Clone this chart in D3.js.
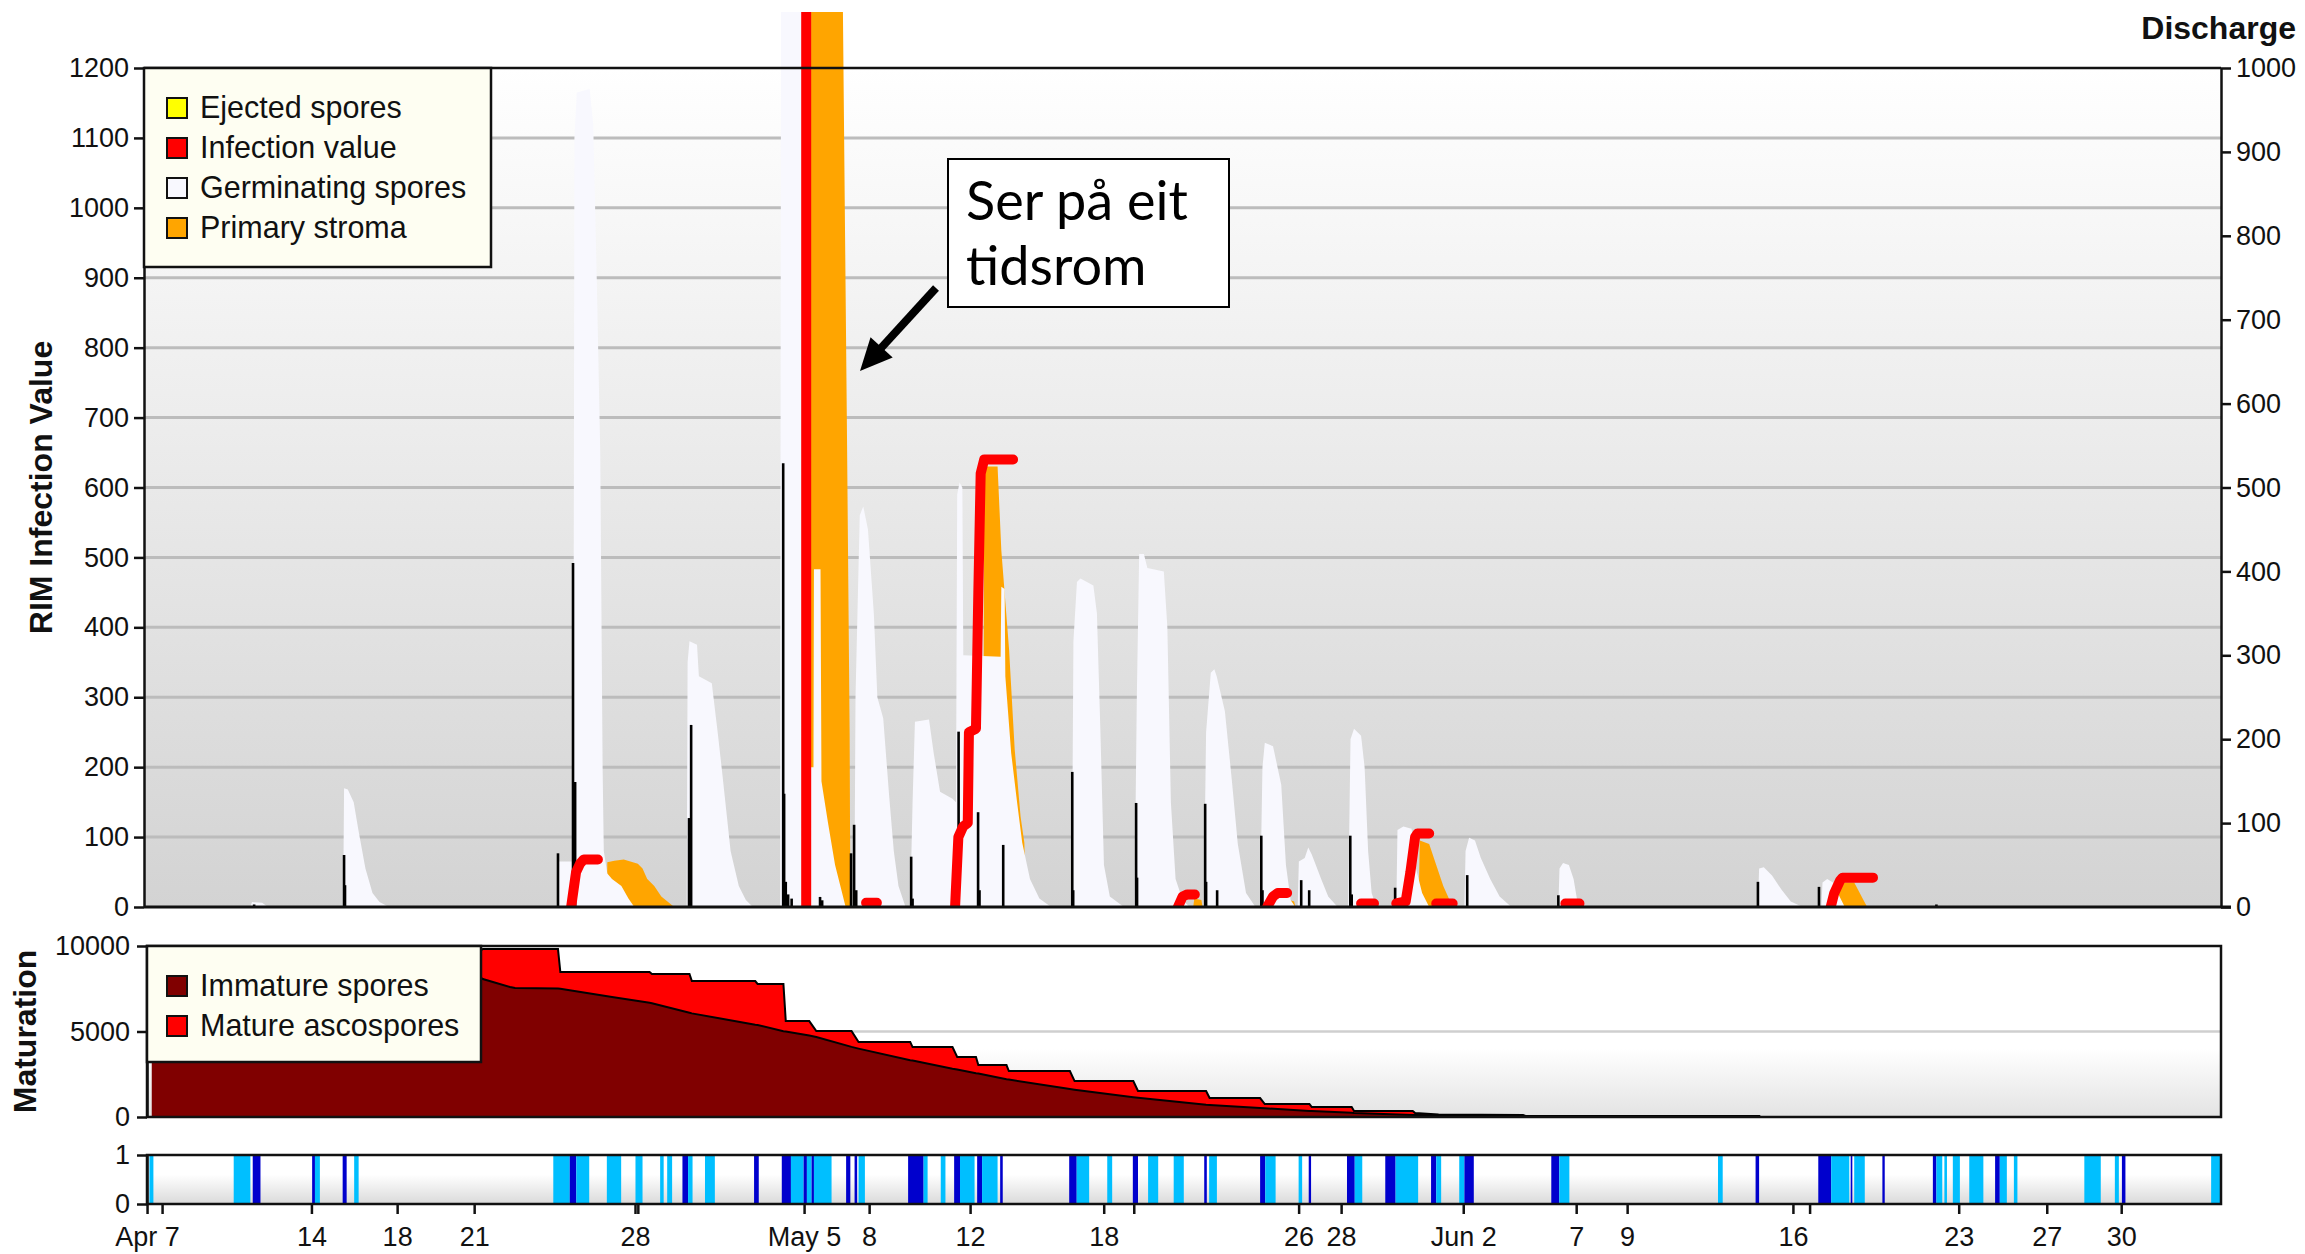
<!DOCTYPE html>
<html><head><meta charset="utf-8">
<script src="https://cdn.jsdelivr.net/npm/d3@7"></script>
<style>body{margin:0;background:#fff;overflow:hidden}</style>
</head><body>
<svg id="c" width="2305" height="1254"></svg>
<script>
// ---------- DATA (time = days since Apr 7) ----------
const START = Date.UTC(2010, 3, 7);
const toDate = d => new Date(START + d * 864e5);

// Germinating spores (left axis)
const germDays = [4.4,4.47,4.9,5.15,
 8.35,8.39,8.55,8.8,9.0,9.3,9.6,9.9,10.3,
 17.45,17.5,18.15,18.2,18.3,18.85,19.0,19.15,19.3,19.4,19.45,19.6,19.8,20.2,20.5,20.75,
 22.98,23.02,23.1,23.42,23.5,24.05,24.3,24.5,24.85,25.2,25.5,25.8,
 26.96,27.0,28.15,28.2,28.38,28.4,28.68,28.72,29.0,29.3,29.6,29.75,
 30.12,30.17,30.35,30.5,30.7,30.95,31.1,31.35,31.6,31.8,32.0,32.3,
 32.5,32.6,32.7,33.3,33.5,33.77,34.3,34.45,34.5,34.6,34.72,34.76,36.35,36.38,36.52,36.55,36.8,37.05,37.27,37.6,38.0,38.5,
 39.38,39.45,39.6,39.75,40.3,40.45,40.6,40.75,41.0,41.6,
 42.05,42.15,42.25,42.45,42.6,43.3,43.45,43.6,43.8,44.1,44.4,
 45.0,45.1,45.3,45.45,45.55,45.9,46.2,46.45,46.8,47.2,
 47.4,47.5,47.6,47.95,48.3,48.5,48.7,48.9,
 49.0,49.05,49.3,49.45,49.6,50.0,50.3,50.7,
 51.15,51.25,51.4,51.7,51.85,52.0,52.15,52.35,
 53.2,53.25,53.5,53.85,54.0,54.3,54.6,
 56.1,56.15,56.3,56.55,56.8,57.2,57.6,58.1,
 60.1,60.15,60.3,60.55,60.75,60.9,61.05,
 68.6,68.65,68.85,69.2,69.6,70.0,70.5,
 71.3,71.35,71.55,71.8,72.0,72.3];
const germValues = [0,7,6,0,
 0,170,168,150,110,55,20,7,0,
 0,65,65,1100,1165,1170,1120,900,650,200,80,48,40,30,12,0,
 0,350,380,375,330,320,250,190,80,30,10,0,
 0,1400,1400,200,200,483,483,180,120,60,20,0,
 0,300,560,573,540,420,300,270,160,80,30,0,
 0,150,265,268,220,165,155,150,590,607,600,360,358,458,455,330,220,150,92,40,12,0,
 0,380,465,470,460,420,250,60,15,0,
 0,300,505,505,485,480,400,150,40,10,0,
 0,250,335,340,330,280,180,90,20,0,
 0,200,235,230,175,60,10,0,
 0,65,70,85,75,40,15,0,
 0,240,255,245,200,80,20,0,
 0,110,115,112,60,20,0,
 0,80,99,95,70,40,15,0,
 0,55,63,60,40,10,0,
 0,55,57,45,25,8,0,
 0,35,40,35,20,0];

// Primary stroma (left axis)
const stromaDays = [19.58,19.6,19.9,20.3,20.9,21.1,21.3,21.6,21.9,22.45,
 28.25,28.28,29.6,29.8,29.92,29.95,
 35.6,35.65,36.22,36.38,36.71,36.95,37.2,37.36,37.42,
 44.55,44.6,44.9,44.95,
 48.6,48.65,48.85,48.9,
 54.15,54.2,54.6,54.9,55.2,55.6,
 71.95,72.05,72.7,73.25];
const stromaValues = [0,64,66,68,62,55,40,30,15,0,
 0,1400,1400,700,250,0,
 0,630,630,510,368,225,129,92,0,
 0,12,10,0,
 0,10,8,0,
 0,95,90,60,30,0,
 0,35,35,0];

// Infection value (left axis); null separates events
const infectionDays = [18.06,18.27,18.44,18.6,19.2, NaN,
 28.07,28.07, NaN,
 30.62,31.08, NaN,
 34.41,34.55,34.75,34.95,35.0,35.3,35.4,35.5,35.65,36.88, NaN,
 43.9,44.1,44.3,44.62, NaN,
 47.7,47.95,48.15,48.55, NaN,
 51.7,52.25, NaN,
 53.2,53.6,53.8,54.0,54.1,54.6, NaN,
 54.9,55.6, NaN,
 60.4,61.0, NaN,
 71.7,71.85,72.1,72.2,73.5];
const infectionValues = [0,50,62,68,68, null,
 0,1400, null,
 6,6, null,
 0,100,115,120,250,255,450,620,640,640, null,
 0,15,18,18, null,
 0,15,20,20, null,
 5,5, null,
 5,8,50,100,105,105, null,
 5,5, null,
 5,5, null,
 0,20,38,42,42];

// Discharge (right axis)
const dischargeDays = [4.56,8.39,8.43,17.5,18.14,18.23,23.08,23.17,27.09,27.13,27.2,27.3,27.45,28.07,28.66,28.75,
 29.98,30.11,30.2,32.54,32.6,34.41,34.56,35.39,35.45,36.46,39.4,39.44,42.12,42.16,45.06,45.1,45.57,
 47.45,47.5,49.15,49.49,51.24,51.3,53.15,56.22,60.1,68.6,71.2,76.2];
const dischargeValues = [3,62,26,64,410,149,106,217,529,135,30,15,10,118,12,8,
 64,98,20,60,10,74,209,113,20,74,161,20,124,35,123,30,20,
 85,20,32,20,85,15,23,38,14,30,24,3];

// Maturation
const matDays = [0.2,14.27,14.3,15.46,15.67,17.5,17.6,19.8,21.4,21.5,23.1,23.2,25.9,26.0,27.1,27.2,28.2,28.5,30.0,30.3,
 32.5,32.6,34.3,34.5,35.3,35.4,36.6,36.7,39.3,39.5,42.0,42.2,45.1,45.25,47.4,47.6,49.5,49.6,51.3,51.4,53.9,54.0,55.0,
 58.6,58.7,68.65,68.7,88.3];
const immatureSpores = [8100,8100,8070,7600,7540,7510,7500,7020,6680,6650,6100,6060,5400,5380,5020,5000,4760,4680,4100,4000,
 3320,3300,2820,2780,2560,2540,2210,2190,1640,1600,1150,1120,710,700,525,510,355,350,250,240,120,118,100,
 60,60,60,0,0];
const matureAscospores = [1700,1700,1750,2220,2280,2310,980,1460,1800,1710,2260,1890,2550,2400,2760,610,850,350,930,390,
 1070,790,1270,730,950,500,830,500,1050,500,950,400,810,410,585,250,405,230,330,110,230,112,50,
 60,0,0,0,0];

// Rain / wetness strip
const rainStart = [0.1,3.69,4.5,7.03,7.15,8.33,8.82,17.3,18.0,18.28,19.58,20.8,21.85,22.15,22.8,23.04,23.76,25.85,
 27.03,27.42,27.96,28.1,28.3,28.4,29.77,30.13,30.3,32.41,33.07,33.8,34.37,34.62,35.35,35.56,36.33,
 39.27,39.59,40.89,41.98,42.63,43.72,45.02,45.23,47.4,47.62,49.04,49.47,51.1,51.43,52.73,53.17,54.68,54.9,55.88,56.1,
 59.8,60.14,66.9,68.5,71.17,71.72,72.55,72.7,73.9,76.05,76.2,76.54,76.9,77.6,78.7,78.9,79.5,82.5,83.8,84.1,87.9];
const rainEnd = [0.27,4.4,4.83,7.15,7.36,8.5,9.01,18.0,18.28,18.83,20.19,21.1,22.0,22.36,23.04,23.23,24.18,26.05,
 27.42,27.96,28.1,28.3,28.4,29.15,29.95,30.24,30.57,33.07,33.24,34.0,34.62,35.24,35.56,36.22,36.44,
 39.59,40.12,41.1,42.2,43.06,44.15,45.13,45.56,47.62,48.06,49.19,49.57,51.43,51.75,53.17,54.13,54.9,55.11,56.1,56.5,
 60.14,60.57,67.1,68.65,71.72,72.49,72.62,73.15,74.0,76.2,76.45,76.65,77.2,78.2,78.9,79.2,79.65,83.2,83.97,84.25,88.3];
const rainKind = ['L','L','D','D','L','D','L','L','D','L','L','L','L','L','D','L','L','D',
 'D','L','D','L','D','L','D','D','L','D','L','L','D','L','D','L','D',
 'D','L','L','D','L','L','D','L','D','L','L','D','D','L','D','L','D','L','L','D',
 'D','L','L','D','D','L','D','L','D','D','L','L','L','L','D','L','L','L','L','D','L'];

// Axis ticks
const tickDays = [0,7,10.65,13.93,20.78,27.98,30.75,35.05,40.74,49.04,50.85,56.05,60.86,63.03,70.09,77.15,80.9,84.07];
const tickLabels = ['Apr 7','14','18','21','28','May 5','8','12','18','26','28','Jun 2','7','9','16','23','27','30'];
const minorTickDays = [0.64,20.9,42.02,70.8];
const leftTicks = d3.range(0, 1201, 100);
const rightTicks = d3.range(0, 1001, 100);
const matTicks = [0, 5000, 10000];
const rainTicks = [0, 1];

const legendMain = ['Ejected spores','Infection value','Germinating spores','Primary stroma'];
const legendMat = ['Immature spores','Mature ascospores'];

// ---------- STYLE ----------
const FONT = "'Liberation Sans', Arial, Helvetica, sans-serif";
const C = {germ:'#f8f8fe', stroma:'#ffa500', inf:'#ff0000', ejected:'#ffff00', dis:'#000000',
  immature:'#800000', mature:'#ff0000', light:'#00bfff', dark:'#0000cd'};
const legendMainColors = [C.ejected, C.inf, C.germ, C.stroma];
const legendMatColors = [C.immature, C.mature];

const M  = {x0:144, x1:2221, y0:68,  y1:907};
const MT = {x0:147, x1:2221, y0:946, y1:1117};
const RN = {x0:147, x1:2221, y0:1155, y1:1204};

const svg = d3.select('#c');
const defs = svg.append('defs');
function vgrad(id, stops){
  const g = defs.append('linearGradient').attr('id', id).attr('x1',0).attr('y1',0).attr('x2',0).attr('y2',1);
  stops.forEach(s => g.append('stop').attr('offset', s[0]).attr('stop-color', s[1]));
}
vgrad('gMain', [[0,'#ffffff'],[1,'#d3d3d3']]);
vgrad('gMat',  [[0,'#ffffff'],[0.6,'#ffffff'],[1,'#e3e3e3']]);
vgrad('gRain', [[0,'#ffffff'],[0.4,'#ffffff'],[1,'#dadada']]);
defs.append('clipPath').attr('id','clipMain').append('rect')
  .attr('x', M.x0).attr('y', 12).attr('width', M.x1 - M.x0).attr('height', M.y1 - 12);
defs.append('clipPath').attr('id','clipMat').append('rect')
  .attr('x', MT.x0).attr('y', MT.y0).attr('width', MT.x1 - MT.x0).attr('height', MT.y1 - MT.y0);

// ---------- SCALES ----------
const x = d3.scaleUtc().domain([toDate(-0.13), toDate(88.32)]).range([M.x0, M.x1]);
const yL = d3.scaleLinear().domain([0,1200]).range([M.y1, M.y0]);
const yR = d3.scaleLinear().domain([0,1000]).range([M.y1, M.y0]);
const yM = d3.scaleLinear().domain([0,10000]).range([MT.y1, MT.y0]);
const yRn = d3.scaleLinear().domain([0,1]).range([RN.y1, RN.y0]);
const fmt = d3.format('d');

const zip = (ds, vs) => ds.map((d, i) => ({d, v: vs[i]}));

// ---------- MAIN PANEL ----------
svg.append('rect').attr('x', M.x0).attr('y', M.y0).attr('width', M.x1 - M.x0).attr('height', M.y1 - M.y0).attr('fill', 'url(#gMain)');
svg.append('g').selectAll('line').data(leftTicks.filter(t => t > 0 && t < 1200)).join('line')
  .attr('x1', M.x0).attr('x2', M.x1).attr('y1', d => yL(d)).attr('y2', d => yL(d))
  .attr('stroke', '#bcbcbc').attr('stroke-width', 3);

const plot = svg.append('g').attr('clip-path', 'url(#clipMain)');
const areaL = d3.area().x(p => x(toDate(p.d))).y0(yL(0)).y1(p => yL(p.v));
plot.append('path').datum(zip(stromaDays, stromaValues)).attr('d', areaL).attr('fill', C.stroma);
plot.append('path').datum(zip(germDays, germValues)).attr('d', areaL).attr('fill', C.germ);
plot.append('g').selectAll('line').data(zip(dischargeDays, dischargeValues)).join('line')
  .attr('x1', p => x(toDate(p.d))).attr('x2', p => x(toDate(p.d)))
  .attr('y1', yR(0)).attr('y2', p => yR(p.v)).attr('stroke', C.dis).attr('stroke-width', 2.6);
const lineInf = d3.line().defined(p => p.v !== null).x(p => x(toDate(p.d))).y(p => yL(p.v));
plot.append('path').datum(zip(infectionDays, infectionValues)).attr('d', lineInf)
  .attr('fill', 'none').attr('stroke', C.inf).attr('stroke-width', 10)
  .attr('stroke-linejoin', 'round').attr('stroke-linecap', 'round');

// frame lines
svg.append('line').attr('x1', M.x0).attr('x2', M.x1).attr('y1', M.y0).attr('y2', M.y0).attr('stroke', '#111').attr('stroke-width', 2.5);

const axL = svg.append('g').attr('transform', `translate(${M.x0},0)`)
  .call(d3.axisLeft(yL).tickValues(leftTicks).tickFormat(fmt).tickSize(10).tickSizeOuter(0).tickPadding(5));
const axR = svg.append('g').attr('transform', `translate(${M.x1},0)`)
  .call(d3.axisRight(yR).tickValues(rightTicks).tickFormat(fmt).tickSize(10).tickSizeOuter(0).tickPadding(5));
svg.append('line').attr('x1', M.x0).attr('x2', M.x1 + 10).attr('y1', M.y1).attr('y2', M.y1).attr('stroke', '#111').attr('stroke-width', 3);

// legend (main)
const lg = svg.append('g');
lg.append('rect').attr('x', M.x0).attr('y', M.y0).attr('width', 347).attr('height', 199)
  .attr('fill', '#fefef2').attr('stroke', '#111').attr('stroke-width', 2.5);
legendMain.forEach((t, i) => {
  const cy = 108 + i * 40;
  lg.append('rect').attr('x', 167).attr('y', cy - 10).attr('width', 20).attr('height', 20)
    .attr('fill', legendMainColors[i]).attr('stroke', '#111').attr('stroke-width', 2);
  lg.append('text').attr('x', 200).attr('y', cy + 10).text(t)
    .attr('font-family', FONT).attr('font-size', 30.5).attr('fill', '#111');
});

// annotation
svg.append('rect').attr('x', 948).attr('y', 159).attr('width', 281).attr('height', 148)
  .attr('fill', '#fff').attr('stroke', '#000').attr('stroke-width', 2);
const annFont = "Lato, 'Open Sans', sans-serif";
svg.append('text').attr('x', 966).attr('y', 220).attr('font-family', annFont).attr('font-size', 54).attr('fill', '#000').text('Ser på eit');
svg.append('text').attr('x', 966).attr('y', 285).attr('font-family', annFont).attr('font-size', 54).attr('fill', '#000').text('tidsrom');
{
  const x1 = 936, y1 = 288, x2 = 860, y2 = 371;
  const dx = x2 - x1, dy = y2 - y1, L = Math.hypot(dx, dy), ux = dx / L, uy = dy / L;
  const hl = 32, hw = 15;
  const bx = x2 - ux * hl, by = y2 - uy * hl;
  svg.append('line').attr('x1', x1).attr('y1', y1).attr('x2', bx + ux * 4).attr('y2', by + uy * 4)
    .attr('stroke', '#000').attr('stroke-width', 8);
  svg.append('path').attr('d', `M${x2},${y2}L${bx - uy * hw},${by + ux * hw}L${bx + uy * hw},${by - ux * hw}Z`).attr('fill', '#000');
}

// titles
svg.append('text').attr('transform', `translate(52,${(M.y0 + M.y1) / 2}) rotate(-90)`).attr('text-anchor', 'middle')
  .attr('font-family', FONT).attr('font-weight', 'bold').attr('font-size', 32).attr('fill', '#111').text('RIM Infection Value');
svg.append('text').attr('x', 2296).attr('y', 39).attr('text-anchor', 'end')
  .attr('font-family', FONT).attr('font-weight', 'bold').attr('font-size', 32).attr('fill', '#111').text('Discharge');

// ---------- MATURATION PANEL ----------
svg.append('rect').attr('x', MT.x0).attr('y', MT.y0).attr('width', MT.x1 - MT.x0).attr('height', MT.y1 - MT.y0).attr('fill', 'url(#gMat)');
svg.append('line').attr('x1', MT.x0).attr('x2', MT.x1).attr('y1', yM(5000)).attr('y2', yM(5000)).attr('stroke', '#cfcfcf').attr('stroke-width', 2.5);
const matRows = matDays.map((d, i) => ({d, immature: immatureSpores[i], mature: matureAscospores[i]}));
const stack = d3.stack().keys(['immature', 'mature'])(matRows);
const areaM = d3.area().x(p => x(toDate(p.data.d))).y0(p => yM(p[0])).y1(p => yM(p[1]));
const mg = svg.append('g').attr('clip-path', 'url(#clipMat)');
mg.selectAll('path.a').data(stack).join('path').attr('class', 'a').attr('d', areaM)
  .attr('fill', (s, i) => i === 0 ? C.immature : C.mature);
const lineM = d3.line().x(p => x(toDate(p.data.d))).y(p => yM(p[1]));
mg.selectAll('path.l').data(stack).join('path').attr('class', 'l').attr('d', lineM)
  .attr('fill', 'none').attr('stroke', '#000').attr('stroke-width', 2);
svg.append('rect').attr('x', MT.x0).attr('y', MT.y0).attr('width', MT.x1 - MT.x0).attr('height', MT.y1 - MT.y0)
  .attr('fill', 'none').attr('stroke', '#111').attr('stroke-width', 2.5);
const axM = svg.append('g').attr('transform', `translate(${MT.x0},0)`)
  .call(d3.axisLeft(yM).tickValues(matTicks).tickFormat(fmt).tickSize(10).tickSizeOuter(0).tickPadding(7));
// legend (maturation)
const lg2 = svg.append('g');
lg2.append('rect').attr('x', MT.x0).attr('y', MT.y0).attr('width', 334).attr('height', 116)
  .attr('fill', '#fefef2').attr('stroke', '#111').attr('stroke-width', 2.5);
legendMat.forEach((t, i) => {
  const cy = 986 + i * 40;
  lg2.append('rect').attr('x', 167).attr('y', cy - 10).attr('width', 20).attr('height', 20)
    .attr('fill', legendMatColors[i]).attr('stroke', '#111').attr('stroke-width', 2);
  lg2.append('text').attr('x', 200).attr('y', cy + 10).text(t)
    .attr('font-family', FONT).attr('font-size', 30.5).attr('fill', '#111');
});
svg.append('text').attr('transform', `translate(36,${(MT.y0 + MT.y1) / 2}) rotate(-90)`).attr('text-anchor', 'middle')
  .attr('font-family', FONT).attr('font-weight', 'bold').attr('font-size', 32).attr('fill', '#111').text('Maturation');

// ---------- RAIN STRIP ----------
svg.append('rect').attr('x', RN.x0).attr('y', RN.y0).attr('width', RN.x1 - RN.x0).attr('height', RN.y1 - RN.y0).attr('fill', 'url(#gRain)');
svg.append('g').selectAll('rect').data(rainStart.map((s, i) => ({s, e: rainEnd[i], k: rainKind[i]}))).join('rect')
  .attr('x', r => x(toDate(r.s))).attr('width', r => Math.max(1.5, x(toDate(r.e)) - x(toDate(r.s))))
  .attr('y', yRn(1)).attr('height', yRn(0) - yRn(1))
  .attr('fill', r => r.k === 'D' ? C.dark : C.light);
svg.append('rect').attr('x', RN.x0).attr('y', RN.y0).attr('width', RN.x1 - RN.x0).attr('height', RN.y1 - RN.y0)
  .attr('fill', 'none').attr('stroke', '#111').attr('stroke-width', 2.5);
const axRn = svg.append('g').attr('transform', `translate(${RN.x0},0)`)
  .call(d3.axisLeft(yRn).tickValues(rainTicks).tickFormat(fmt).tickSize(10).tickSizeOuter(0).tickPadding(7));

// x axis
const axX = svg.append('g').attr('transform', `translate(0,${RN.y1})`)
  .call(d3.axisBottom(x).tickValues(tickDays.map(toDate)).tickFormat((d, i) => tickLabels[i]).tickSize(10).tickSizeOuter(0).tickPadding(13));
const axX2 = svg.append('g').attr('transform', `translate(0,${RN.y1})`)
  .call(d3.axisBottom(x).tickValues(minorTickDays.map(toDate)).tickFormat('').tickSize(10).tickSizeOuter(0));
axX.select('.domain').remove(); axX2.select('.domain').remove();

// axis styling
[axL, axR, axM, axRn, axX, axX2].forEach(a => {
  a.selectAll('text').attr('font-family', FONT).attr('font-size', 27).attr('fill', '#111');
  a.selectAll('.tick line').attr('stroke', '#111').attr('stroke-width', 2.5);
  a.select('.domain').attr('stroke', '#111').attr('stroke-width', 2.5);
});
</script>
</body></html>
